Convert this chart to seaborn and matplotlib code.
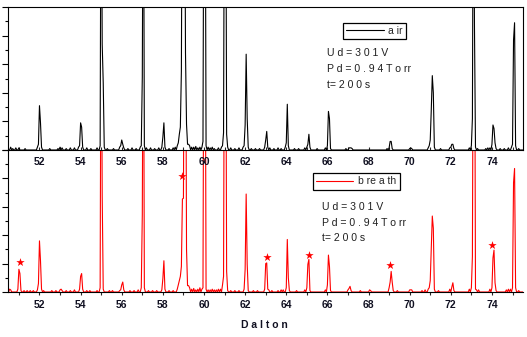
import numpy as np
import pandas as pd
import matplotlib
matplotlib.use("Agg")
import matplotlib.pyplot as plt
import seaborn as sns
from matplotlib.ticker import MultipleLocator

# ---------------- data ----------------
# sampled spectrum points (Dalton, intensity in axis units 0..10; >10 is clipped)
air_mz = [50.6, 50.7, 50.85, 51.0, 51.3, 51.9, 51.95, 52.0, 52.05, 52.1, 52.5, 52.9, 53.0, 53.1,
          53.3, 53.5, 53.7, 53.9, 53.95, 54.0, 54.05, 54.1, 54.3, 54.5, 54.8, 54.95, 55.0, 55.05,
          55.1, 55.15, 55.3, 55.6, 55.9, 55.95, 56.0, 56.05, 56.1, 56.3, 56.5, 56.7, 56.9, 56.95,
          57.0, 57.05, 57.1, 57.2, 57.4, 57.6, 57.8, 57.95, 58.0, 58.05, 58.1, 58.3, 58.5, 58.6,
          58.7, 58.75, 58.8, 58.85, 58.9, 58.95, 59.0, 59.05, 59.1, 59.15, 59.2, 59.25, 59.3, 59.4,
          59.5, 59.6, 59.7, 59.8, 59.9, 59.95, 60.0, 60.05, 60.1, 60.2, 60.3, 60.4, 60.5, 60.7,
          60.85, 60.9, 60.95, 61.0, 61.05, 61.1, 61.15, 61.3, 61.5, 61.7, 61.9, 61.95, 62.0, 62.05,
          62.1, 62.15, 62.3, 62.5, 62.7, 62.95, 63.0, 63.05, 63.1, 63.2, 63.4, 63.6, 63.75, 63.95,
          64.0, 64.05, 64.1, 64.4, 64.6, 64.9, 65.0, 65.05, 65.1, 65.15, 65.5, 65.9, 66.0, 66.05,
          66.1, 66.15, 66.9, 67.05, 67.1, 67.15, 67.2, 68.9, 69.0, 69.05, 69.1, 69.15, 70.0, 70.05,
          70.1, 70.9, 70.95, 71.0, 71.05, 71.1, 71.15, 71.2, 71.5, 71.95, 72.0, 72.05, 72.1, 72.15,
          72.9, 73.0, 73.05, 73.1, 73.15, 73.2, 73.3, 73.7, 73.8, 73.9, 74.0, 74.05, 74.1, 74.15,
          74.2, 74.4, 74.6, 74.8, 74.95, 75.0, 75.05, 75.1, 75.15, 75.3]
air_int = [0.2, 0.1, 0.15, 0.15, 0.1, 0.2, 0.4, 3.1, 1.9, 0.2, 0.1, 0.1, 0.2, 0.15,
           0.1, 0.15, 0.15, 0.2, 0.3, 1.9, 1.6, 0.2, 0.15, 0.1, 0.15, 0.3, 25, 7.4,
           4.7, 0.2, 0.1, 0.1, 0.2, 0.3, 0.7, 0.4, 0.15, 0.1, 0.15, 0.1, 0.2, 0.3,
           5.1, 25, 0.3, 0.15, 0.15, 0.1, 0.15, 0.2, 0.9, 1.9, 0.2, 0.1, 0.15, 0.2,
           0.3, 0.5, 1.1, 1.6, 5.5, 25, 30, 25, 6.8, 1.8, 0.4, 0.4, 0.3, 0.2,
           0.2, 0.25, 0.15, 0.2, 0.2, 0.6, 25, 25, 0.3, 0.2, 0.15, 0.2, 0.1, 0.15,
           0.2, 0.3, 1.2, 25, 25, 1.1, 0.2, 0.15, 0.1, 0.15, 0.2, 0.3, 1.75, 6.7,
           2.2, 0.2, 0.1, 0.1, 0.1, 0.2, 0.7, 1.3, 0.2, 0.15, 0.1, 0.15, 0.1, 0.2,
           0.5, 3.2, 0.3, 0.1, 0.1, 0.15, 0.2, 0.4, 1.1, 0.2, 0.1, 0.15, 0.3, 2.7,
           2.2, 0.1, 0.1, 0.15, 0.15, 0.15, 0.1, 0.1, 0.15, 0.6, 0.6, 0.1, 0.1, 0.15,
           0.1, 0.15, 0.3, 0.7, 2.8, 5.2, 4.0, 0.2, 0.1, 0.15, 0.2, 0.4, 0.4, 0.1,
           0.15, 0.3, 2.2, 25, 8.7, 0.2, 0.1, 0.1, 0.15, 0.15, 0.4, 1.75, 1.5, 0.5,
           0.1, 0.1, 0.1, 0.15, 0.2, 0.4, 7.7, 8.9, 0.3, 0.1]

breath_mz = [50.55, 50.6, 50.95, 51.0, 51.05, 51.1, 51.25, 51.4, 51.55, 51.7, 51.9, 51.95, 52.0,
             52.05, 52.1, 52.2, 52.6, 52.8, 53.0, 53.05, 53.1, 53.3, 53.5, 53.7, 53.95, 54.0,
             54.05, 54.1, 54.3, 54.45, 54.8, 54.95, 55.0, 55.05, 55.1, 55.4, 55.55, 55.9, 55.95,
             56.0, 56.05, 56.1, 56.4, 56.6, 56.8, 56.95, 57.0, 57.05, 57.1, 57.3, 57.5, 57.7,
             57.95, 58.0, 58.05, 58.1, 58.3, 58.5, 58.7, 58.75, 58.8, 58.85, 58.9, 58.95, 59.0,
             59.05, 59.1, 59.15, 59.2, 59.25, 59.3, 59.4, 59.5, 59.6, 59.7, 59.8, 59.9, 59.95,
             60.0, 60.05, 60.1, 60.2, 60.3, 60.4, 60.5, 60.6, 60.7, 60.8, 60.9, 60.95, 61.0,
             61.05, 61.1, 61.15, 61.3, 61.5, 61.7, 61.95, 62.0, 62.05, 62.1, 62.15, 62.4, 62.6,
             62.95, 63.0, 63.05, 63.1, 63.15, 63.3, 63.6, 63.75, 63.85, 64.0, 64.05, 64.1, 64.15,
             64.5, 64.9, 65.0, 65.05, 65.1, 65.15, 65.9, 66.0, 66.05, 66.1, 66.15, 67.0, 67.05,
             67.1, 67.15, 67.6, 68.05, 68.1, 69.0, 69.05, 69.1, 69.15, 69.2, 69.4, 70.0, 70.05,
             70.1, 70.6, 70.75, 70.9, 70.95, 71.0, 71.05, 71.1, 71.15, 71.2, 71.4, 71.95, 72.05,
             72.1, 72.15, 72.9, 73.0, 73.05, 73.1, 73.15, 73.2, 73.25, 73.35, 73.9, 74.0, 74.05,
             74.1, 74.15, 74.2, 74.7, 74.8, 74.9, 75.0, 75.05, 75.1, 75.15, 75.3]
breath_int = [0.2, 0.15, 0.2, 1.6, 1.3, 0.1, 0.1, 0.1, 0.1, 0.1, 0.15, 0.6, 3.6,
              2.2, 0.2, 0.1, 0.1, 0.1, 0.15, 0.2, 0.1, 0.1, 0.1, 0.15, 0.2, 1.1,
              1.3, 0.2, 0.1, 0.1, 0.1, 0.3, 25, 6.8, 0.2, 0.1, 0.1, 0.1, 0.15,
              0.5, 0.7, 0.15, 0.1, 0.1, 0.15, 0.3, 5.45, 25, 0.3, 0.1, 0.1, 0.1,
              0.15, 0.95, 2.2, 0.2, 0.1, 0.1, 0.2, 0.5, 0.8, 1.1, 1.8, 6.55, 6.6,
              25, 25, 3.0, 0.45, 0.45, 0.3, 0.2, 0.25, 0.15, 0.2, 0.3, 0.2, 0.3,
              25, 25, 0.2, 0.15, 0.15, 0.2, 0.15, 0.15, 0.2, 0.2, 0.5, 1.1, 25,
              25, 1.45, 0.1, 0.1, 0.1, 0.1, 0.2, 1.6, 6.9, 1.95, 0.1, 0.1, 0.1,
              0.2, 2.0, 2.05, 0.2, 0.15, 0.1, 0.1, 0.15, 0.15, 0.3, 3.7, 1.0, 0.1,
              0.1, 0.15, 0.3, 1.95, 2.3, 0.1, 0.15, 0.5, 2.6, 1.8, 0.1, 0.15, 0.25,
              0.4, 0.1, 0.1, 0.15, 0.1, 0.3, 0.7, 1.45, 0.7, 0.1, 0.1, 0.15, 0.15,
              0.15, 0.1, 0.15, 0.2, 0.3, 0.8, 3.1, 5.35, 4.5, 0.2, 0.1, 0.2, 0.35,
              0.65, 0.1, 0.2, 0.3, 2.5, 25, 25, 0.2, 0.15, 0.15, 0.2, 0.3, 2.4,
              2.95, 0.65, 0.1, 0.15, 0.2, 0.2, 0.3, 7.7, 8.7, 0.3, 0.1]

# asterisks marking breath-specific peaks
star_mz = [51.05, 58.91, 63.05, 65.1, 69.04, 73.98]
star_int = [2.13, 8.2, 2.5, 2.6, 1.9, 3.3]

xticks_major = [52, 54, 56, 58, 60, 62, 64, 66, 68, 70, 72, 74]
legend_labels = ["a ir", "b re a th"]
info_lines = ["U d = 3 0 1 V", "P d = 0 . 9 4 T o rr", "t= 2 0 0 s"]
xlabel_text = "D a l t o n"


def spectrum(mz, inten):
    grid = np.round(np.arange(50.45, 75.5001, 0.05), 2)
    lookup = {round(m, 2): v for m, v in zip(mz, inten)}
    vals = [lookup.get(round(g, 2), 0.0) for g in grid]
    return pd.DataFrame({"mz": grid, "I": vals})


air_df = spectrum(air_mz, air_int)
breath_df = spectrum(breath_mz, breath_int)
star_df = pd.DataFrame({"mz": star_mz, "I": star_int})

# ---------------- figure ----------------
sns.set_style("ticks")
plt.rcParams["font.family"] = ["Liberation Sans", "DejaVu Sans"]

W, H = 527, 337
fig = plt.figure(figsize=(W / 100, H / 100), dpi=100)
fig.patch.set_facecolor("white")

ax2 = fig.add_axes([8 / W, 1 - 292 / H, 515 / W, 142 / H])
ax1 = fig.add_axes([8 / W, 1 - 150 / H, 515 / W, 143 / H])
ax1.patch.set_alpha(0)

sns.lineplot(data=air_df, x="mz", y="I", ax=ax1, color="black", lw=0.8,
             estimator=None, sort=False, label=legend_labels[0], legend=False)
sns.lineplot(data=breath_df, x="mz", y="I", ax=ax2, color="#ff0000", lw=0.8,
             estimator=None, sort=False, label=legend_labels[1], legend=False)
sns.scatterplot(data=star_df, x="mz", y="I", ax=ax2, marker="*", color="#ff0000",
                s=40, linewidth=0, legend=False)

tick_color = "#000000"
for ax in (ax1, ax2):
    ax.set_xlim(50.47, 75.51)
    ax.set_ylim(0, 10)
    ax.xaxis.set_major_locator(MultipleLocator(2))
    ax.xaxis.set_minor_locator(MultipleLocator(1))
    ax.yaxis.set_major_locator(MultipleLocator(2))
    ax.yaxis.set_minor_locator(MultipleLocator(1))
    ax.set_xlabel("")
    ax.set_ylabel("")
    ax.tick_params(axis="y", which="major", direction="out", length=4.3, width=0.8,
                   left=True, right=False, labelleft=False, color=tick_color)
    ax.tick_params(axis="y", which="minor", direction="out", length=2.2, width=0.8,
                   left=True, right=False, color=tick_color)
    for sp in ax.spines.values():
        sp.set_linewidth(0.8)
        sp.set_color("black")

ax1.set_xticks(xticks_major)
ax2.set_xticks(xticks_major)
ax1.tick_params(axis="x", which="both", direction="in", length=2.2, width=0.8,
                top=False, bottom=True, labelsize=7.5, pad=5, labelcolor="#111122")
ax2.tick_params(axis="x", which="both", direction="out", length=2.2, width=0.8,
                top=False, bottom=True, labelsize=7.5, pad=3.2, labelcolor="#111122")
for ax in (ax1, ax2):
    for lbl in ax.get_xticklabels():
        lbl.set_fontweight("bold")

for side in ("top", "right", "left", "bottom"):
    ax1.spines[side].set_visible(True)
ax2.spines["top"].set_visible(False)
ax2.spines["right"].set_visible(False)

# legends
h1 = ax1.get_lines()[0]
leg1 = ax1.legend([h1], [legend_labels[0]], loc="upper left",
                  bbox_to_anchor=(343.3 / W, 1 - 22.7 / H), bbox_transform=fig.transFigure,
                  borderaxespad=0, frameon=True, fancybox=False, fontsize=7.5,
                  handlelength=3.65, handletextpad=0.35, borderpad=0.3, framealpha=1)
leg1.get_frame().set_edgecolor("black")
leg1.get_frame().set_linewidth(0.9)

h2 = ax2.get_lines()[0]
leg2 = ax2.legend([h2], [legend_labels[1]], loc="upper left",
                  bbox_to_anchor=(313.3 / W, 1 - 173.3 / H), bbox_transform=fig.transFigure,
                  borderaxespad=0, frameon=True, fancybox=False, fontsize=7.5,
                  handlelength=3.55, handletextpad=0.48, borderpad=0.3, framealpha=1)
leg2.get_frame().set_edgecolor("black")
leg2.get_frame().set_linewidth(0.9)

# info texts
for i, yy in enumerate([52.7, 69.0, 85.0]):
    fig.text(326.7 / W, 1 - yy / H, info_lines[i], fontsize=7.6, color="#202020",
             ha="left", va="center")
for i, yy in enumerate([207.3, 222.7, 237.7]):
    fig.text(321.7 / W, 1 - yy / H, info_lines[i], fontsize=7.6, color="#202020",
             ha="left", va="center")

fig.text(264.5 / W, 1 - 325 / H, xlabel_text, fontsize=7.5, fontweight="bold",
         color="#111122", ha="center", va="center")

fig.savefig("out.png", dpi=100)
